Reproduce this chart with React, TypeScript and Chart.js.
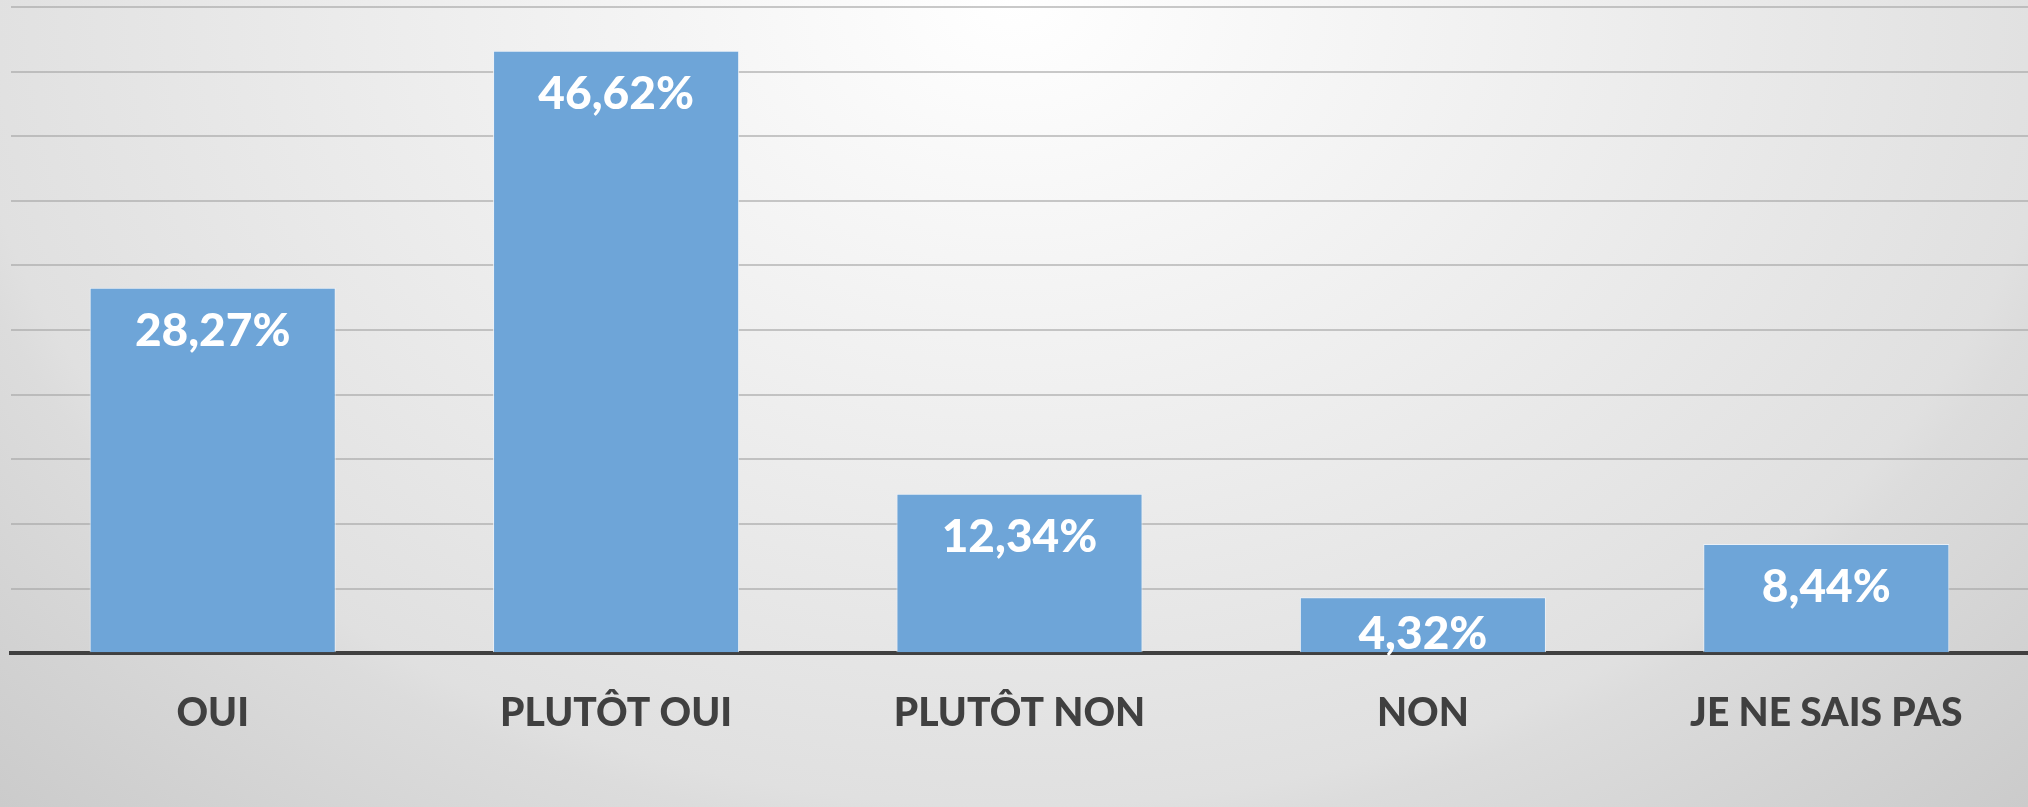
import React, { useEffect, useRef } from "react";
import { Chart, registerables } from "chart.js";

Chart.register(...registerables);

const categories = ["OUI", "PLUTÔT OUI", "PLUTÔT NON", "NON", "JE NE SAIS PAS"];
const values = [28.27, 46.62, 12.34, 4.32, 8.44];
const valueLabels = ["28,27%", "46,62%", "12,34%", "4,32%", "8,44%"];
const yTicks = [0, 5, 10, 15, 20, 25, 30, 35, 40, 45, 50];

const W = 2028;
const H = 807;

const bgPlugin = {
  id: "bgGradient",
  beforeDraw(chart: any) {
    const ctx = chart.ctx;
    const rx = 1460;
    const ry = 1120;
    ctx.save();
    ctx.translate(1014, 0);
    ctx.scale(1, ry / rx);
    const g = ctx.createRadialGradient(0, 0, 0, 0, 0, rx);
    g.addColorStop(0, "#ffffff");
    g.addColorStop(0.72, "#e0e0e0");
    g.addColorStop(0.75, "#dcdcdc");
    g.addColorStop(1, "#cbcbcb");
    ctx.fillStyle = g;
    ctx.fillRect(-1100, -10, 2300, (H + 20) * (rx / ry));
    ctx.restore();
  },
};

const labelPlugin = {
  id: "valueLabels",
  afterDatasetsDraw(chart: any) {
    const ctx = chart.ctx;
    const meta = chart.getDatasetMeta(0);
    const base = chart.scales.y.getPixelForValue(0);
    ctx.save();
    ctx.font = "900 46px Lato, 'Open Sans', sans-serif";
    ctx.fillStyle = "#ffffff";
    ctx.textAlign = "center";
    ctx.textBaseline = "middle";
    meta.data.forEach((bar: any, i: number) => {
      const y = Math.min(bar.y + 43, base - 19);
      ctx.fillText(valueLabels[i], bar.x, y);
    });
    ctx.restore();
  },
};

export default function App() {
  const ref = useRef<HTMLCanvasElement | null>(null);
  useEffect(() => {
    if (!ref.current) return;
    const chart = new Chart(ref.current, {
      type: "bar",
      data: {
        labels: categories,
        datasets: [
          {
            data: values,
            backgroundColor: "#6ea5d8",
            borderColor: "rgba(235,242,250,0.9)",
            borderWidth: 1,
            categoryPercentage: 1,
            barPercentage: 0.61,
          },
        ],
      },
      options: {
        responsive: false,
        animation: false,
        devicePixelRatio: 1,
        layout: { padding: { left: 11, right: 0, top: 7, bottom: 33 } },
        plugins: {
          legend: { display: false },
          tooltip: { enabled: false },
        },
        scales: {
          x: {
            grid: { display: false, drawTicks: false },
            border: { display: true, color: "#404040", width: 4 },
            ticks: {
              color: "#404040",
              padding: 37,
              font: { family: "Lato, 'Open Sans', sans-serif", size: 39, weight: "900" },
            },
          },
          y: {
            min: 0,
            max: 50,
            afterBuildTicks(scale: any) {
              scale.ticks = yTicks.map((v) => ({ value: v }));
            },
            ticks: { display: false },
            border: { display: false },
            grid: { color: "rgba(165,165,165,0.6)", lineWidth: 2, drawTicks: false },
          },
        },
      },
      plugins: [bgPlugin, labelPlugin],
    });
    return () => chart.destroy();
  }, []);
  return (
    <div style={{ position: "fixed", left: 0, top: 0, width: W, height: H }}>
      <canvas ref={ref} width={W} height={H} style={{ width: W, height: H, display: "block" }} />
    </div>
  );
}
